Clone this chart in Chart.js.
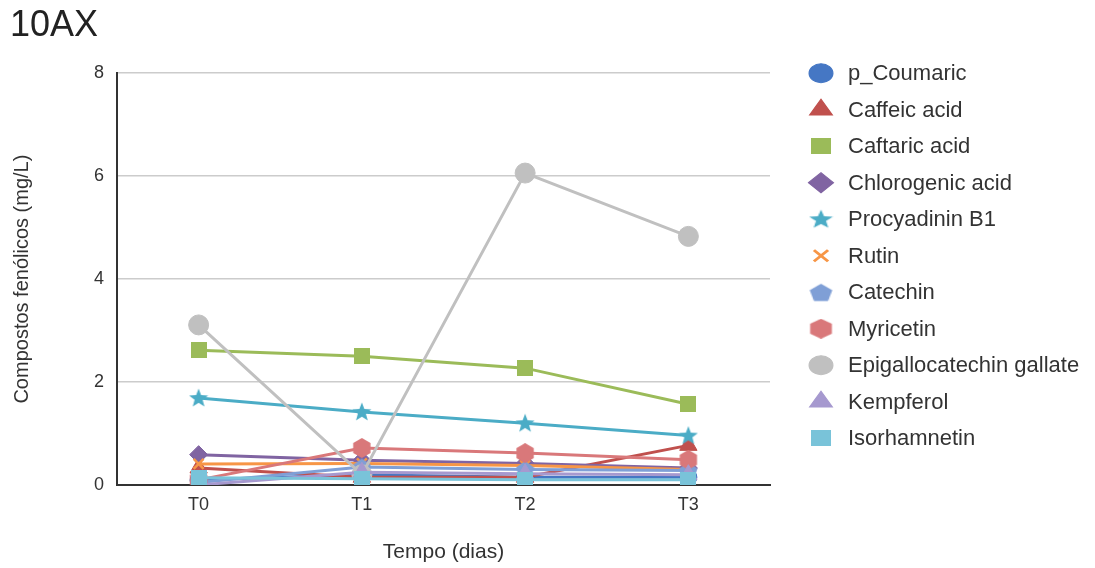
<!DOCTYPE html>
<html>
<head>
<meta charset="utf-8">
<script src="https://cdn.jsdelivr.net/npm/chart.js@4"></script>
<style>
  body { margin: 0; background: #fff; }
  #wrap { width: 1095px; height: 568px; }
</style>
</head>
<body>
<div id="wrap"><canvas id="chart" width="1095" height="568"></canvas></div>
<script>
const labels = ['T0', 'T1', 'T2', 'T3']
const yTicks = [0, 2, 4, 6, 8]

const pCoumaric = [0.10, 0.20, 0.15, 0.15]
const caffeic = [0.33, 0.15, 0.15, 0.77]
const caftaric = [2.62, 2.50, 2.27, 1.57]
const chlorogenic = [0.59, 0.48, 0.42, 0.33]
const procyadinin = [1.69, 1.42, 1.20, 0.96]
const rutin = [0.41, 0.42, 0.38, 0.30]
const catechin = [0.05, 0.35, 0.30, 0.28]
const myricetin = [0.10, 0.72, 0.62, 0.49]
const epigallo = [3.11, 0.20, 6.06, 4.83]
const kempferol = [0.00, 0.25, 0.22, 0.20]
const isorhamnetin = [0.14, 0.12, 0.10, 0.10]

const FONT = 'Liberation Sans, Arial, sans-serif'

// формы, которых нет в Chart.js (или которые рисуются не так)
function shape(kind, color, size) {
    const c = document.createElement('canvas')
    c.width = size
    c.height = size
    const g = c.getContext('2d')
    const r = size / 2
    g.fillStyle = color
    g.beginPath()
    if (kind === 'square') {
        g.rect(0, 0, size, size)
    } else if (kind === 'star') {
        for (let i = 0; i < 10; i++) {
            const a = -Math.PI / 2 + i * Math.PI / 5
            const rr = i % 2 ? r * 0.42 : r
            const x = r + rr * Math.cos(a)
            const y = r + 0.5 + rr * Math.sin(a)
            if (i === 0) g.moveTo(x, y)
            else g.lineTo(x, y)
        }
    } else {
        const sides = kind === 'pentagon' ? 5 : 6
        for (let i = 0; i < sides; i++) {
            const a = -Math.PI / 2 + i * 2 * Math.PI / sides
            const x = r + r * Math.cos(a)
            const y = r + (kind === 'pentagon' ? 1 : 0) + r * Math.sin(a)
            if (i === 0) g.moveTo(x, y)
            else g.lineTo(x, y)
        }
    }
    g.closePath()
    g.fill()
    return c
}

function series(label, data, color, style, radius, legendRadius) {
    return {
        label: label,
        data: data,
        borderColor: color,
        backgroundColor: color,
        pointBackgroundColor: color,
        pointBorderColor: color,
        pointStyle: style,
        pointRadius: radius,
        pointBorderWidth: style === 'crossRot' ? 2.5 : 1,
        borderWidth: 3,
        tension: 0,
        legendRadius: legendRadius
    }
}

const datasets = [
    series('p_Coumaric', pCoumaric, '#4577c4', 'circle', 8.5, 9.5),
    series('Caffeic acid', caffeic, '#c0504d', 'triangle', 10, 10.5),
    series('Caftaric acid', caftaric, '#9bbb59', shape('square', '#9bbb59', 16), 8, 0),
    series('Chlorogenic acid', chlorogenic, '#8064a2', 'rectRot', 9, 10),
    series('Procyadinin B1', procyadinin, '#4bacc6', shape('star', '#4bacc6', 20), 9, 0),
    series('Rutin', rutin, '#f79646', 'crossRot', 7, 8),
    series('Catechin', catechin, '#7f9fd6', shape('pentagon', '#7f9fd6', 19), 9, 0),
    series('Myricetin', myricetin, '#d9787a', shape('hexagon', '#d9787a', 20), 9, 0),
    series('Epigallocatechin gallate', epigallo, '#c0c0c0', 'circle', 10, 9.5),
    series('Kempferol', kempferol, '#a699cf', 'triangle', 10, 10.5),
    series('Isorhamnetin', isorhamnetin, '#79c3d9', shape('square', '#79c3d9', 16), 8, 0)
]
// последние серии рисуются поверх
datasets.forEach((d, i) => { d.order = datasets.length - i })

// легенда справа, рисуем сами: встроенной не хватает ширины
const sideLegend = {
    id: 'sideLegend',
    afterDraw(chart) {
        const c = chart.ctx
        const top = chart.chartArea.top
        c.save()
        chart.data.datasets.forEach((d, i) => {
            const y = top + i * 36.5
            c.save()
            c.translate(821, y)
            c.scale(1.25, 1)
            c.fillStyle = d.backgroundColor
            c.strokeStyle = d.borderColor
            c.lineWidth = d.pointStyle === 'crossRot' ? 2.5 : 1
            Chart.helpers.drawPoint(c, { pointStyle: d.pointStyle, radius: d.legendRadius, rotation: 0, borderWidth: c.lineWidth }, 0, 0)
            c.restore()
            c.fillStyle = '#333'
            c.font = '22px ' + FONT
            c.textBaseline = 'middle'
            c.fillText(d.label, 848, y + 1)
        })
        c.restore()
    }
}

const ctx = document.getElementById('chart')
new Chart(ctx, {
    type: 'line',
    data: { labels: labels, datasets: datasets },
    plugins: [sideLegend],
    options: {
        responsive: false,
        animation: false,
        layout: { padding: { left: 10, right: 325, top: 0, bottom: 0 } },
        plugins: {
            title: {
                display: true,
                text: '10AX',
                align: 'start',
                color: '#222',
                font: { family: FONT, size: 36, weight: 'normal' },
                padding: { top: 4, bottom: 26 }
            },
            legend: { display: false },
            tooltip: { enabled: false }
        },
        scales: {
            x: {
                offset: true,
                grid: { display: false, drawTicks: false },
                border: { color: '#333', width: 2 },
                ticks: { color: '#333', font: { family: FONT, size: 18 }, padding: 9 },
                afterFit: s => { s.height = 83 },
                title: {
                    display: true,
                    text: 'Tempo (dias)',
                    color: '#333',
                    font: { family: FONT, size: 21 },
                    padding: { top: 0, bottom: 3.5 }
                }
            },
            y: {
                min: 0,
                max: 8,
                afterBuildTicks: axis => { axis.ticks = yTicks.map(v => ({ value: v })) },
                afterFit: s => { s.width = 107 },
                grid: { color: '#cccccc', lineWidth: 1.5, drawTicks: false },
                border: { color: '#333', width: 2 },
                ticks: { color: '#333', font: { family: FONT, size: 18 }, padding: 13 },
                title: {
                    display: true,
                    text: 'Compostos fenólicos (mg/L)',
                    color: '#333',
                    font: { family: FONT, size: 20 },
                    padding: { top: 0, bottom: 0 }
                }
            }
        }
    }
})
</script>
</body>
</html>
